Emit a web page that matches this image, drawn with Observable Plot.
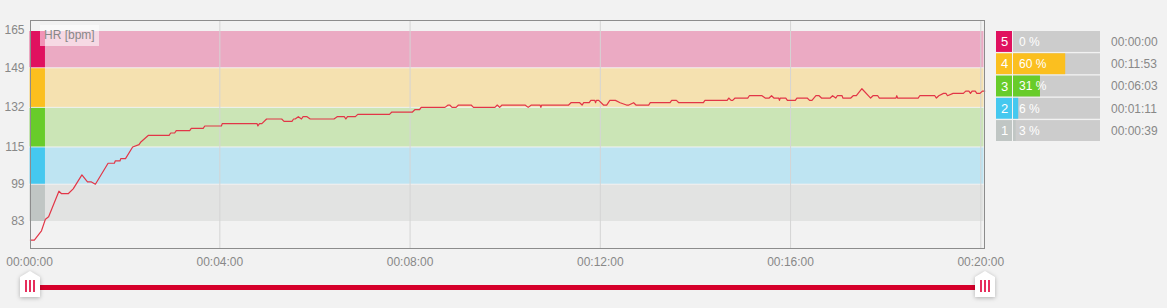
<!DOCTYPE html>
<html>
<head>
<meta charset="utf-8">
<script src="https://cdn.jsdelivr.net/npm/d3@7"></script>
<script src="https://cdn.jsdelivr.net/npm/@observablehq/plot@0.6"></script>
<style>
  html, body { margin: 0; padding: 0; background: #f2f2f2; }
  body { width: 1167px; height: 308px; overflow: hidden; font-family: "Liberation Sans", Arial, sans-serif; }
  #wrap { position: relative; width: 1167px; height: 308px; }
  #main { position: absolute; left: 0; top: 0; }
  #legend { position: absolute; left: 996px; top: 31px; }
  #hrlabel { position: absolute; left: 40px; top: 25px; width: 55px; height: 21px; padding-left: 4px;
    background: rgba(255,255,255,0.55); color: #888; font-size: 12px; line-height: 21px; }
  #track { position: absolute; left: 30px; top: 285px; width: 955px; height: 5px; background: #d6002b; }
  .handle { position: absolute; top: 271px; width: 20px; height: 26px; filter: drop-shadow(0 1px 2px rgba(0,0,0,0.28)); }
  .handle .body { position: absolute; inset: 0; background: #fff;
    clip-path: polygon(0 6px, 50% 0, 100% 6px, 100% 100%, 0 100%); }
  .handle .bar { position: absolute; top: 9px; width: 2px; height: 12px; background: #e62e5c; }
</style>
</head>
<body>
<div id="wrap">
  <div id="main"></div>
  <div id="hrlabel">HR [bpm]</div>
  <div id="legend"></div>
  <div id="track"></div>
  <div class="handle" style="left:20px"><div class="body"></div><div class="bar" style="left:5px"></div><div class="bar" style="left:9px"></div><div class="bar" style="left:13px"></div></div>
  <div class="handle" style="left:975px"><div class="body"></div><div class="bar" style="left:5px"></div><div class="bar" style="left:9px"></div><div class="bar" style="left:13px"></div></div>
</div>
<script>
// ---- data ----
const zoneIds    = [5, 4, 3, 2, 1];
const zoneLow    = [149, 132, 115, 99, 83];
const zoneHigh   = [165, 149, 132, 115, 99];
const zoneColor  = ["#e0115f", "#fbbf1f", "#68cc2a", "#45c8ef", "#c0c6c4"];
const zoneBand   = ["#ebaac3", "#f5e1b0", "#cbe5b6", "#bee4f2", "#e2e3e2"];
const zonePct    = [0, 60, 31, 6, 3];
const zoneTime   = ["00:00:00", "00:11:53", "00:06:03", "00:01:11", "00:00:39"];
const yTicks     = [165, 149, 132, 115, 99, 83];
const xTicks     = [0, 240, 480, 720, 960, 1200];
const gridTicks  = [240, 480, 720, 960, 1200];

// time in seconds, heart rate in bpm
const hrTime = [1,6,15,20,24,37,40,49,55,66,73,78,83,99,107,108,114,115,121,130,138,140,150,176,178,183,185,202,204,219,221,242,243,287,288,290,293,299,318,321,331,333,335,339,343,345,350,354,384,388,397,399,401,411,414,454,457,483,486,492,494,524,528,530,533,538,541,557,560,587,590,593,596,625,629,633,644,645,646,680,683,694,697,699,706,708,713,714,715,718,724,728,732,739,745,753,756,762,765,781,783,808,810,816,819,850,852,880,882,885,887,890,906,908,924,928,933,936,939,945,946,947,954,956,966,968,981,984,987,992,996,999,1010,1013,1017,1019,1025,1026,1036,1039,1043,1050,1061,1064,1070,1072,1093,1094,1095,1121,1123,1142,1144,1147,1153,1156,1158,1165,1178,1181,1185,1187,1189,1193,1195,1199,1202,1205];
const hrValue = [75,75,79,84,85,96,95,95,97,103,100,100,99,108,108,109,109,110,110,115,116,117,120,120,121,121,122,122,123,123,124,124,125,125,124,125,125,127,127,126,126,127,127,128,127,128,128,127,127,128,128,127,128,128,129,129,130,130,131,131,132,132,133,133,132,132,133,133,132,132,133,132,133,133,132,133,133,132,133,133,134,134,133,134,134,135,135,134,135,135,133,133,135,135,134,133,133,134,133,133,134,134,135,135,134,134,135,135,136,135,135,136,136,137,137,136,136,137,136,136,135,136,136,135,135,136,136,135,135,137,137,136,136,137,136,137,137,136,136,137,137,140,136,137,137,136,136,137,136,136,137,137,136,137,138,138,137,138,138,139,139,138,139,139,138,138,139,139];

// ---- tables built from arrays ----
const zones = zoneIds.map((id, i) => ({id, lo: zoneLow[i], hi: zoneHigh[i], color: zoneColor[i], band: zoneBand[i], pct: zonePct[i], time: zoneTime[i]}));
const hr = hrTime.map((t, i) => ({t, v: hrValue[i]}));
const pad = n => String(n).padStart(2, "0");
const fmt = s => `${pad(Math.floor(s / 3600))}:${pad(Math.floor(s / 60) % 60)}:${pad(s % 60)}`;

const font = "'Liberation Sans', Arial, sans-serif";

const main = Plot.plot({
  width: 990, height: 272,
  marginLeft: 30, marginRight: 6, marginTop: 20, marginBottom: 24,
  style: {background: "transparent", fontFamily: font, fontSize: "12px", color: "#888", overflow: "visible"},
  color: {type: "identity"},
  x: {domain: [0, 1200], range: [29.1, 980.3], ticks: xTicks, tickFormat: fmt, tickSize: 0, tickPadding: 9, label: null},
  y: {domain: [71.4, 169.3], range: [248, 20], ticks: yTicks, tickSize: 0, tickPadding: 6, label: null},
  marks: [
    Plot.rect(zones, {x1: 0.8, x2: 1204, y1: "lo", y2: "hi", fill: "band", insetTop: 1}),
    Plot.rect(zones, {x1: 0.8, x2: 20, y1: "lo", y2: "hi", fill: "color", insetTop: 1}),
    Plot.ruleX(gridTicks, {stroke: "#d4d4d4", strokeWidth: 1}),
    Plot.line(hr, {x: "t", y: "v", stroke: "#e23647", strokeWidth: 1.2}),
    Plot.frame({stroke: "#8c8c8c"})
  ]
});
document.getElementById("main").appendChild(main);

const legend = Plot.plot({
  width: 171, height: 110,
  marginLeft: 17, marginRight: 67, marginTop: 0, marginBottom: 0,
  style: {background: "transparent", fontFamily: font, fontSize: "12px", overflow: "visible"},
  color: {type: "identity"},
  x: {domain: [0, 100], axis: null},
  y: {domain: zoneIds, axis: null, paddingInner: 0.06, paddingOuter: 0, round: false},
  marks: [
    Plot.barX(zones, {x1: 0, x2: 100, y: "id", fill: "#cccccc"}),
    Plot.barX(zones, {x: "pct", y: "id", fill: "color"}),
    Plot.barX(zones, {x1: -19.54, x2: -1.15, y: "id", fill: "color"}),
    Plot.text(zones, {x: -10.35, y: "id", text: d => String(d.id), fill: "#fff", fontSize: 13}),
    Plot.text(zones, {x: 0, y: "id", text: d => `${d.pct} %`, fill: "#fff", textAnchor: "start", dx: 5.5, fontSize: 12}),
    Plot.text(zones, {x: 100, y: "id", text: "time", fill: "#888", textAnchor: "start", dx: 10.5, fontSize: 12})
  ]
});
document.getElementById("legend").appendChild(legend);
</script>
</body>
</html>
